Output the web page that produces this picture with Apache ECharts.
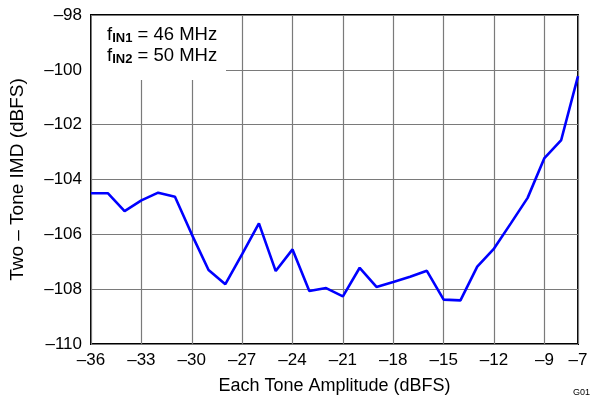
<!DOCTYPE html>
<html>
<head>
<meta charset="utf-8">
<script src="https://cdn.jsdelivr.net/npm/echarts@6/dist/echarts.min.js"></script>
<style>
  html, body { margin: 0; padding: 0; background: #fff; }
  #chart { width: 595px; height: 398px; }
</style>
</head>
<body>
<div id="chart"></div>
<script>
// Each tone amplitude (dBFS)
const amplitude = [-36, -35, -34, -33, -32, -31, -30, -29, -28, -27, -26, -25, -24, -23, -22,
                   -21, -20, -19, -18, -17, -16, -15, -14, -13, -12, -11, -10, -9, -8, -7];
// Two-tone IMD (dBFS)
const imd = [-104.5, -104.5, -105.15, -104.76, -104.48, -104.63, -106.0, -107.3, -107.82, -106.72,
             -105.6, -107.34, -106.55, -108.07, -107.96, -108.26, -107.22, -107.92, -107.74, -107.55,
             -107.33, -108.38, -108.41, -107.18, -106.52, -105.6, -104.67, -103.22, -102.56, -100.23];

const minus = v => String(v).replace('-', '\u2013');
const FONT = 'Liberation Sans, Arial, sans-serif';

const chart = echarts.init(document.getElementById('chart'));
chart.setOption({
  animation: false,
  backgroundColor: '#fff',
  grid: {
    left: 91, right: 17, top: 15, bottom: 54,
    outerBoundsMode: 'none', containLabel: false,
    show: true, borderColor: '#000', borderWidth: 2, backgroundColor: 'transparent'
  },
  xAxis: {
    type: 'value', min: -36, max: -7, interval: 3,
    name: 'Each Tone Amplitude (dBFS)', nameLocation: 'middle', nameGap: 33,
    nameTextStyle: { fontFamily: FONT, fontSize: 18, color: '#000' },
    axisLine: { show: false },
    axisTick: { show: false },
    axisLabel: { formatter: minus, fontFamily: FONT, fontSize: 17, color: '#000', margin: 8,
                 showMaxLabel: true },
    splitLine: { show: true, lineStyle: { color: '#7a7a7a', width: 1.2 } }
  },
  yAxis: {
    type: 'value', min: -110, max: -98, interval: 2,
    name: 'Two \u2013 Tone IMD (dBFS)', nameLocation: 'middle', nameGap: 64,
    nameTextStyle: { fontFamily: FONT, fontSize: 19, color: '#000' },
    axisLine: { show: false },
    axisTick: { show: false },
    axisLabel: { formatter: minus, fontFamily: FONT, fontSize: 17, color: '#000', margin: 9 },
    splitLine: { show: true, lineStyle: { color: '#7a7a7a', width: 1.2 } }
  },
  graphic: [
    {
      type: 'rect', z: 10,
      shape: { x: 92, y: 16, width: 134, height: 64 },
      style: { fill: '#fff' }
    },
    {
      type: 'text', z: 11, left: 107, top: 25,
      style: {
        text: '{f|f}{s|IN1}{t| = 46 MHz}\n{f|f}{s|IN2}{t| = 50 MHz}',
        rich: {
          f: { fontFamily: FONT, fontSize: 18.5, fill: '#000', lineHeight: 21 },
          s: { fontFamily: FONT, fontSize: 13, fontWeight: 'bold', fill: '#000',
               verticalAlign: 'bottom', lineHeight: 21, padding: [7, 0, 0, 0] },
          t: { fontFamily: FONT, fontSize: 18.5, fill: '#000', lineHeight: 21 }
        }
      }
    },
    {
      type: 'text', z: 11, left: 573, top: 388,
      style: { text: 'G01', fontFamily: FONT, fontSize: 9, fill: '#000' }
    }
  ],
  series: [{
    type: 'line', z: 20,
    data: amplitude.map((a, i) => [a, imd[i]]),
    showSymbol: false, symbol: 'none',
    lineStyle: { color: '#0000ff', width: 2.6 },
    clip: false
  }]
});
</script>
</body>
</html>
